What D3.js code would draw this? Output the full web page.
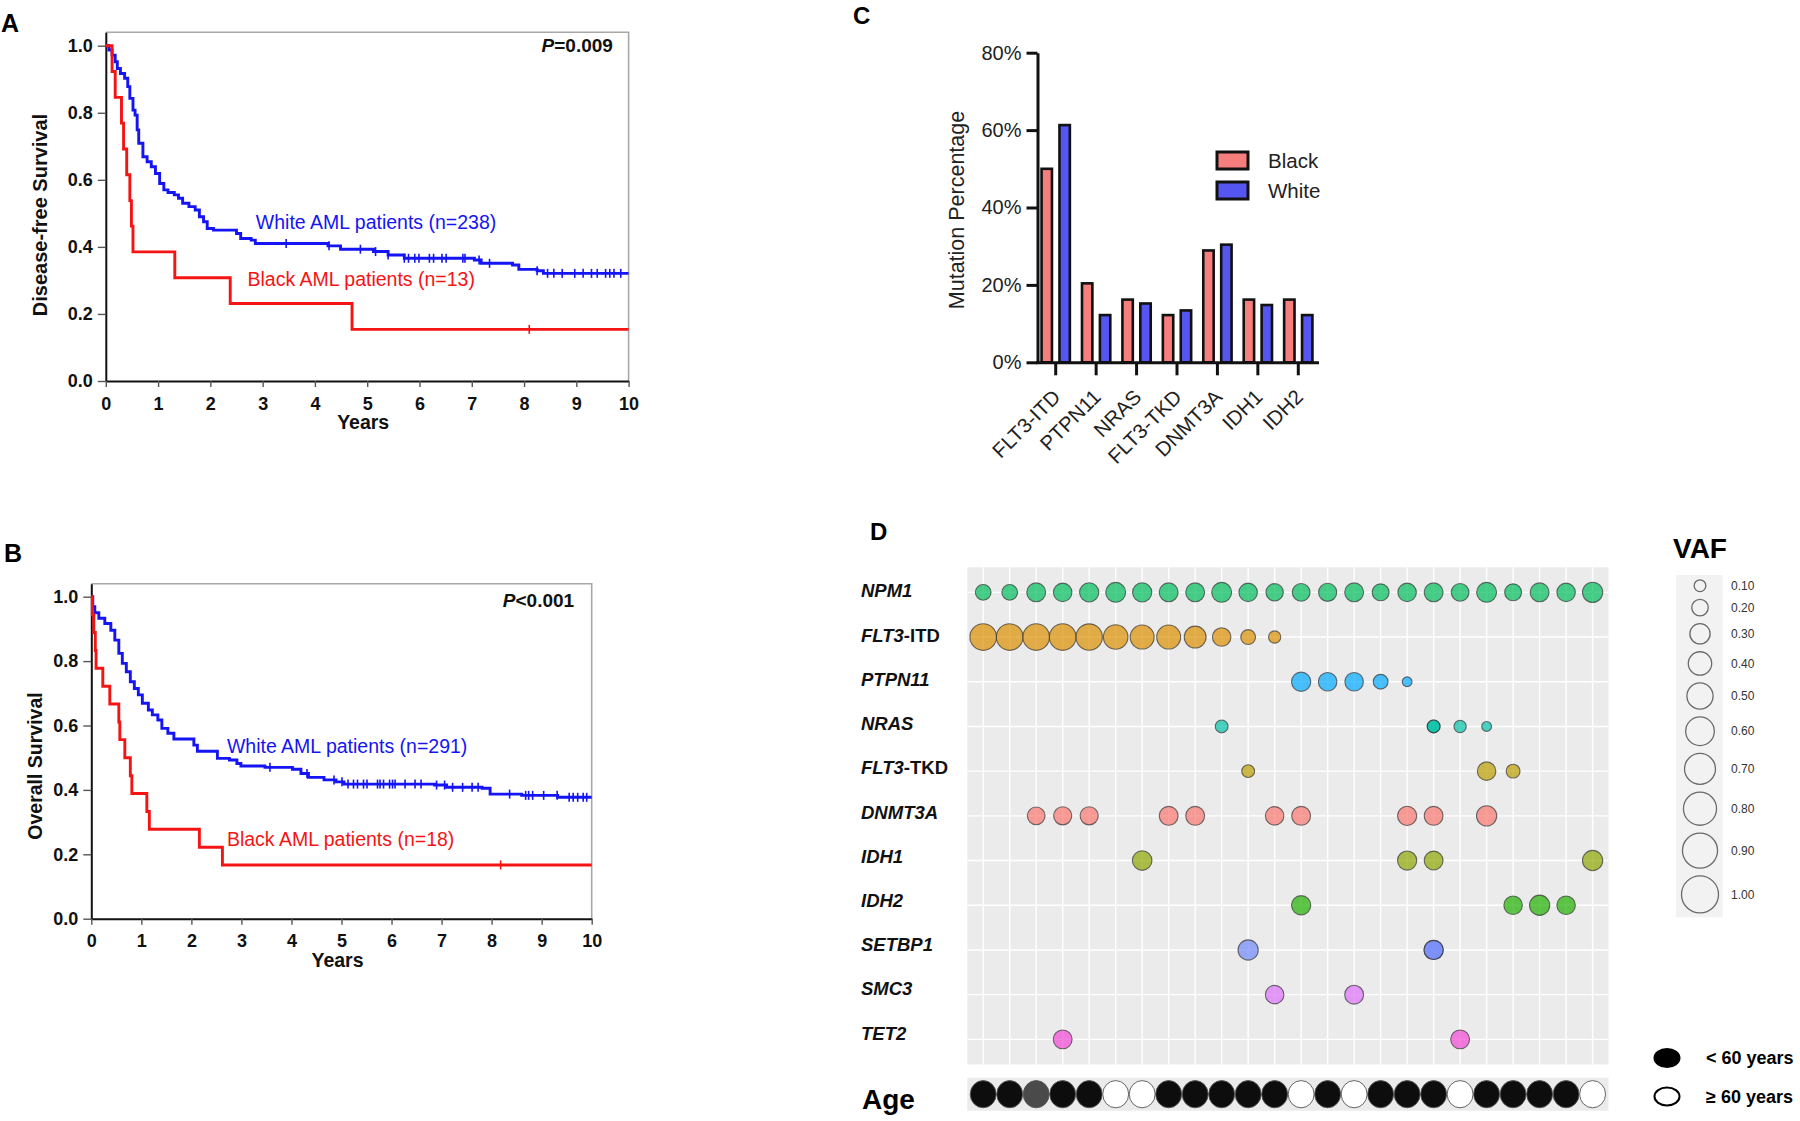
<!DOCTYPE html>
<html><head><meta charset="utf-8">
<script src="https://cdn.jsdelivr.net/npm/d3@7"></script>
<style>
body{margin:0;background:#fff}
svg{display:block;background:#fff}
text{font-family:"Liberation Sans",Arial,Helvetica,sans-serif}
</style>
</head><body>
<svg id="c" width="1800" height="1121"></svg>
<script>
// ---------------- DATA ----------------
const yearTicks = [0,1,2,3,4,5,6,7,8,9,10];
const survTicks = [0,0.2,0.4,0.6,0.8,1.0];

// Panel A: disease-free survival (step times, survival after step)
const dfsWhiteT = [0,0.06,0.12,0.18,0.22,0.28,0.36,0.42,0.46,0.52,0.56,0.60,0.63,0.71,0.79,0.87,0.95,1.03,1.11,1.19,1.31,1.39,1.47,1.59,1.71,1.79,1.87,1.94,2.06,2.5,2.58,2.78,2.86,4.25,4.49,5.12,5.4,5.71,7.05,7.18,7.78,7.9,8.25,8.37];
const dfsWhiteS = [1,0.987,0.972,0.952,0.932,0.917,0.903,0.878,0.843,0.808,0.793,0.749,0.709,0.669,0.654,0.639,0.619,0.589,0.570,0.562,0.555,0.545,0.530,0.520,0.510,0.490,0.475,0.455,0.450,0.440,0.425,0.420,0.410,0.403,0.393,0.386,0.376,0.366,0.361,0.351,0.346,0.333,0.329,0.321];
const dfsWhiteCensor = [3.45,4.27,4.87,5.16,5.4,5.71,5.79,5.91,5.99,6.19,6.27,6.43,6.51,6.83,6.87,7.14,7.34,8.25,8.45,8.57,8.73,8.97,9.13,9.29,9.4,9.56,9.64,9.72,9.85];
const dfsBlackT = [0,0.12,0.18,0.30,0.34,0.40,0.46,0.49,0.52,1.32,2.38,4.71];
const dfsBlackS = [1,0.923,0.846,0.769,0.692,0.615,0.538,0.462,0.385,0.308,0.231,0.154];
const dfsBlackCensor = [8.1];

// Panel B: overall survival
const osWhiteT = [0,0.03,0.07,0.15,0.27,0.39,0.47,0.55,0.62,0.70,0.78,0.86,0.94,1.02,1.14,1.22,1.33,1.41,1.53,1.65,2.05,2.12,2.52,2.76,2.91,2.99,3.47,4.02,4.19,4.34,4.65,4.89,5.05,6.86,7.1,7.81,7.97,8.6,9.32];
const osWhiteS = [1,0.969,0.950,0.933,0.917,0.896,0.865,0.824,0.793,0.767,0.736,0.715,0.695,0.669,0.648,0.633,0.617,0.591,0.576,0.558,0.539,0.520,0.498,0.493,0.482,0.474,0.470,0.464,0.451,0.439,0.431,0.425,0.418,0.415,0.408,0.405,0.387,0.383,0.377];
const osWhiteCensor = [3.57,4.31,4.85,5.01,5.13,5.24,5.32,5.44,5.51,5.72,5.77,5.84,5.96,6.02,6.07,6.27,6.47,6.59,6.9,7.06,7.22,7.42,7.61,7.73,8.36,8.68,8.74,8.82,9.04,9.31,9.55,9.63,9.72,9.83,9.9];
const osBlackT = [0,0.02,0.05,0.08,0.095,0.23,0.37,0.55,0.57,0.67,0.78,0.81,1.11,1.16,2.16,2.62];
const osBlackS = [1,0.944,0.889,0.833,0.778,0.722,0.667,0.611,0.556,0.5,0.444,0.389,0.333,0.278,0.222,0.167];
const osBlackCensor = [8.18];

// Panel C: mutation percentages
const mutCategories = ["FLT3-ITD","PTPN11","NRAS","FLT3-TKD","DNMT3A","IDH1","IDH2"];
const mutGroups = ["Black","White"];
const mutBlack = [50,20.4,16.2,12.2,28.9,16.2,16.2];
const mutWhite = [61.3,12.2,15.2,13.4,30.4,14.8,12.2];
const mutTicks = [0,20,40,60,80];

// Panel D: VAF bubble matrix ([patient, VAF])
const genes = ["NPM1","FLT3-ITD","PTPN11","NRAS","FLT3-TKD","DNMT3A","IDH1","IDH2","SETBP1","SMC3","TET2"];
const patients = [1,2,3,4,5,6,7,8,9,10,11,12,13,14,15,16,17,18,19,20,21,22,23,24];
const vafNPM1 = [[1,.18],[2,.18],[3,.26],[4,.25],[5,.27],[6,.29],[7,.27],[8,.26],[9,.26],[10,.29],[11,.25],[12,.22],[13,.23],[14,.24],[15,.26],[16,.21],[17,.25],[18,.26],[19,.23],[20,.29],[21,.21],[22,.26],[23,.25],[24,.30]];
const vafFLT3ITD = [[1,.52],[2,.52],[3,.52],[4,.52],[5,.51],[6,.44],[7,.42],[8,.42],[9,.35],[10,.25],[11,.16],[12,.11]];
const vafPTPN11 = [[13,.27],[14,.25],[15,.25],[16,.16],[17,.07]];
const vafNRAS = [[10,.12],[18,.12],[18,.12],[19,.11],[20,.07]];
const vafFLT3TKD = [[11,.12],[20,.25],[21,.14]];
const vafDNMT3A = [[3,.23],[4,.24],[5,.24],[8,.26],[9,.26],[12,.25],[13,.26],[17,.27],[18,.26],[20,.30]];
const vafIDH1 = [[7,.28],[17,.27],[18,.26],[24,.30]];
const vafIDH2 = [[13,.27],[21,.25],[22,.30],[23,.25]];
const vafSETBP1 = [[11,.30],[18,.27],[18,.27]];
const vafSMC3 = [[12,.25],[15,.26]];
const vafTET2 = [[4,.26],[19,.26]];
const geneColors = ["#00BD5C","#DB8E00","#00A9FF","#00C1A7","#BB9D00","#F8766D","#8DA600","#1FB000","#7187FA","#DD72FA","#F247D6"];
const ageGroup = ["<60","<60","NA","<60","<60","≥60","≥60","<60","<60","<60","<60","<60","≥60","<60","≥60","<60","<60","<60","≥60","<60","<60","<60","<60","≥60"];
const vafLegend = [0.1,0.2,0.3,0.4,0.5,0.6,0.7,0.8,0.9,1.0];
const vafLegendLabels = ["0.10","0.20","0.30","0.40","0.50","0.60","0.70","0.80","0.90","1.00"];

// ---------------- DRAW ----------------
const svg = d3.select("#c");

function stepAt(T,S,t){let v=S[0];for(let i=0;i<T.length;i++){if(T[i]<=t)v=S[i];}return v;}

function drawKM(cfg){
  const g = svg.append("g");
  const x = d3.scaleLinear().domain([0,10]).range([cfg.x0,cfg.x10]);
  const y = d3.scaleLinear().domain([0,1.04]).range([cfg.y0, cfg.y0 - 1.04*(cfg.y0-cfg.y1)]);
  g.append("path").attr("d",`M${x(0)},${y(1.04)}H${x(10)}V${y(0)}`)
    .attr("fill","none").attr("stroke","#a8a8a8").attr("stroke-width",1.6);
  const ya = g.append("g").attr("transform",`translate(${x(0)},0)`)
    .call(d3.axisLeft(y).tickValues(survTicks).tickSize(8).tickSizeOuter(0).tickPadding(5).tickFormat(d3.format(".1f")));
  const xa = g.append("g").attr("transform",`translate(0,${y(0)})`)
    .call(d3.axisBottom(x).tickValues(yearTicks).tickSize(6).tickSizeOuter(0).tickPadding(10));
  [ya,xa].forEach(a=>{
    a.select(".domain").attr("stroke","#111").attr("stroke-width",2);
    a.selectAll(".tick line").attr("stroke","#555").attr("stroke-width",1.4);
    a.selectAll(".tick text").attr("font-size",18).attr("font-weight","bold").attr("fill","#111")
      .attr("font-family","'Liberation Sans',Arial,sans-serif");
  });
  const line = d3.line().x(d=>x(d[0])).y(d=>y(d[1])).curve(d3.curveStepAfter);
  cfg.series.forEach(s=>{
    const pts = s.T.map((t,i)=>[t,s.S[i]]);
    pts.push([10,s.S[s.S.length-1]]);
    g.append("path").attr("d",line(pts)).attr("fill","none").attr("stroke",s.color).attr("stroke-width",2.9);
    g.selectAll(null).data(s.C).enter().append("line")
      .attr("x1",d=>x(d)).attr("x2",d=>x(d))
      .attr("y1",d=>y(stepAt(s.T,s.S,d))-4.5).attr("y2",d=>y(stepAt(s.T,s.S,d))+4.5)
      .attr("stroke",s.color).attr("stroke-width",1.6);
    g.append("text").attr("x",x(s.lx)).attr("y",y(s.ly)).attr("fill",s.color)
      .attr("font-size",19.5).text(s.label);
  });
  g.append("text").attr("x",x(cfg.px)).attr("y",y(cfg.py)).attr("text-anchor","end")
    .attr("font-size",19).attr("font-weight","bold").attr("fill","#111")
    .call(t=>{t.append("tspan").attr("font-style","italic").text("P");t.append("tspan").text(cfg.ptext);});
  g.append("text").attr("x",(x(0)+x(10))/2 - 4).attr("y",y(0)+48).attr("text-anchor","middle")
    .attr("font-size",19.5).attr("font-weight","bold").attr("fill","#111").text("Years");
  g.append("text").attr("transform",`translate(${cfg.ylx},${cfg.yly}) rotate(-90)`)
    .attr("text-anchor","middle").attr("dominant-baseline","central")
    .attr("font-size",cfg.ylfs).attr("font-weight","bold").attr("fill","#111").text(cfg.ylabel);
  g.append("text").attr("x",cfg.lettx).attr("y",cfg.letty).attr("font-size",25).attr("font-weight","bold").text(cfg.letter);
}

drawKM({x0:105.8,x10:628.6,y0:381,y1:45.7,letter:"A",lettx:1,letty:32,
  ylabel:"Disease-free Survival",ylfs:20,ylx:39.5,yly:215,ptext:"=0.009",px:9.7,py:0.98,
  series:[
    {T:dfsWhiteT,S:dfsWhiteS,C:dfsWhiteCensor,color:"#1414F5",label:"White AML patients (n=238)",lx:2.87,ly:0.453},
    {T:dfsBlackT,S:dfsBlackS,C:dfsBlackCensor,color:"#F51414",label:"Black AML patients (n=13)",lx:2.71,ly:0.283}
  ]});
drawKM({x0:91.3,x10:591.7,y0:918.7,y1:596.7,letter:"B",lettx:4,letty:562,
  ylabel:"Overall Survival",ylfs:19.5,ylx:35,yly:766,ptext:"<0.001",px:9.65,py:0.969,
  series:[
    {T:osWhiteT,S:osWhiteS,C:osWhiteCensor,color:"#1414F5",label:"White AML patients (n=291)",lx:2.71,ly:0.514},
    {T:osBlackT,S:osBlackS,C:osBlackCensor,color:"#F51414",label:"Black AML patients (n=18)",lx:2.71,ly:0.225}
  ]});

// ---------- Panel C ----------
(function(){
  const g = svg.append("g");
  const x0 = d3.scaleBand().domain(mutCategories).range([1035.5,1318.5]).paddingInner(0.3).paddingOuter(0.15);
  const x1 = d3.scaleBand().domain(mutGroups).range([0,x0.bandwidth()]).paddingInner(0.42);
  const y = d3.scaleLinear().domain([0,80]).range([362.3,52.7]);
  const col = {Black:"#F67F7E",White:"#5555F2"};
  const rows = mutCategories.map((c,i)=>({c,vals:[{k:"Black",v:mutBlack[i]},{k:"White",v:mutWhite[i]}]}));
  g.selectAll("g.grp").data(rows).enter().append("g").attr("transform",d=>`translate(${x0(d.c)},0)`)
    .selectAll("rect").data(d=>d.vals).enter().append("rect")
    .attr("x",d=>x1(d.k)).attr("width",x1.bandwidth()).attr("y",d=>y(d.v)).attr("height",d=>y(0)-y(d.v))
    .attr("fill",d=>col[d.k]).attr("stroke","#111").attr("stroke-width",2.6);
  const ya = g.append("g").attr("transform","translate(1037.5,0)")
    .call(d3.axisLeft(y).tickValues(mutTicks).tickSize(11).tickSizeOuter(0).tickPadding(5).tickFormat(d=>d+"%"));
  const xa = g.append("g").attr("transform",`translate(0,${y(0)})`)
    .call(d3.axisBottom(x0).tickSize(13).tickSizeOuter(0));
  [ya,xa].forEach(a=>{
    a.select(".domain").attr("stroke","#111").attr("stroke-width",3);
    a.selectAll(".tick line").attr("stroke","#111").attr("stroke-width",3);
    a.selectAll(".tick text").attr("font-size",20).attr("fill","#222").attr("font-family","'Liberation Sans',Arial,sans-serif");
  });
  xa.selectAll(".tick text").attr("y",0).attr("dy",0).attr("text-anchor","end")
    .attr("transform","translate(6,36) rotate(-45)").attr("font-size",20.5);
  g.append("text").attr("transform","translate(957,210) rotate(-90)").attr("text-anchor","middle")
    .attr("dominant-baseline","central").attr("font-size",21.5).attr("fill","#222").text("Mutation Percentage");
  const lg = g.selectAll("g.lg").data(mutGroups).enter().append("g")
    .attr("transform",(d,i)=>`translate(1217,${152+i*30})`);
  lg.append("rect").attr("width",31).attr("height",17).attr("fill",d=>col[d]).attr("stroke","#111").attr("stroke-width",3);
  lg.append("text").attr("x",51).attr("y",16).attr("font-size",20.5).attr("fill","#222").text(d=>d);
  g.append("text").attr("x",853).attr("y",24).attr("font-size",24).attr("font-weight","bold").text("C");
})();

// ---------- Panel D ----------
(function(){
  const g = svg.append("g");
  const left=967.3, right=1608.5, top=567.3, bottom=1064.4;
  const x = d3.scalePoint().domain(patients).range([left,right]).padding(0.6);
  const y = d3.scalePoint().domain(genes).range([top,bottom]).padding(0.56);
  const yLab = d3.scalePoint().domain(genes).range([590.7,1033]);
  const r = d3.scaleSqrt().domain([0,1]).range([0,18.5]);
  g.append("rect").attr("x",left).attr("y",top).attr("width",right-left).attr("height",bottom-top).attr("fill","#EBEBEB");
  g.selectAll("line.vx").data(patients).enter().append("line")
    .attr("x1",d=>x(d)).attr("x2",d=>x(d)).attr("y1",top).attr("y2",bottom).attr("stroke","#fff").attr("stroke-width",1.4);
  g.selectAll("line.hy").data(genes).enter().append("line")
    .attr("y1",d=>y(d)).attr("y2",d=>y(d)).attr("x1",left).attr("x2",right).attr("stroke","#fff").attr("stroke-width",1.4);
  const vafs = [vafNPM1,vafFLT3ITD,vafPTPN11,vafNRAS,vafFLT3TKD,vafDNMT3A,vafIDH1,vafIDH2,vafSETBP1,vafSMC3,vafTET2];
  const pts = [];
  vafs.forEach((arr,gi)=>arr.forEach(([p,v])=>pts.push({gene:genes[gi],p,v,color:geneColors[gi]})));
  g.selectAll("circle.b").data(pts).enter().append("circle")
    .attr("cx",d=>x(d.p)).attr("cy",d=>y(d.gene)).attr("r",d=>r(d.v))
    .attr("fill",d=>d.color).attr("fill-opacity",0.7).attr("stroke","#333").attr("stroke-opacity",0.7).attr("stroke-width",1.1);
  genes.forEach(name=>{
    const t = g.append("text").attr("x",861).attr("y",yLab(name)).attr("dy","0.36em")
      .attr("font-size",18.5).attr("font-weight","bold").attr("fill","#111");
    if(name.startsWith("FLT3-")){
      t.append("tspan").attr("font-style","italic").text("FLT3");
      t.append("tspan").text(name.slice(4));
    } else t.attr("font-style","italic").text(name);
  });
  // Age strip
  const ay = 1094.2;
  g.append("rect").attr("x",left).attr("y",1077.7).attr("width",right-left).attr("height",33).attr("fill","#EBEBEB");
  const ageFill = {"<60":"#0d0d0d","≥60":"#ffffff","NA":"#4a4a4a"};
  g.selectAll("ellipse.age").data(patients).enter().append("ellipse")
    .attr("cx",d=>x(d)).attr("cy",ay).attr("rx",x.step()/2-0.3).attr("ry",13.6)
    .attr("fill",(d,i)=>ageFill[ageGroup[i]]).attr("stroke","#555").attr("stroke-width",0.9);
  g.append("text").attr("x",862).attr("y",1109).attr("font-size",28).attr("font-weight","bold").text("Age");
  g.append("text").attr("x",870).attr("y",540).attr("font-size",24).attr("font-weight","bold").text("D");
  // VAF legend
  g.append("text").attr("x",1700).attr("y",558).attr("text-anchor","middle").attr("font-size",28).attr("font-weight","bold").text("VAF");
  g.append("rect").attr("x",1676).attr("y",575).attr("width",46.7).attr("height",342.3).attr("fill","#F2F2F2");
  const cy = []; let c = 585.7;
  vafLegend.forEach((v,i)=>{ if(i>0) c += r(vafLegend[i-1]) + r(v) + 7.8; cy.push(c); });
  const lgd = g.selectAll("g.vl").data(vafLegend).enter().append("g").attr("transform",(d,i)=>`translate(1700,${cy[i]})`);
  lgd.append("circle").attr("r",d=>r(d)).attr("fill","none").attr("stroke","#6a6a6a").attr("stroke-width",1.3);
  lgd.append("text").attr("x",31).attr("dy","0.35em").attr("font-size",12).attr("fill","#333").text((d,i)=>vafLegendLabels[i]);
  // Age legend
  const ageLeg = [{k:"< 60 years",f:"#000",y:1058},{k:"≥ 60 years",f:"#fff",y:1096.5}];
  const al = g.selectAll("g.al").data(ageLeg).enter().append("g").attr("transform",d=>`translate(1667,${d.y})`);
  al.append("ellipse").attr("rx",12.5).attr("ry",9).attr("fill",d=>d.f).attr("stroke","#000").attr("stroke-width",2);
  al.append("text").attr("x",39).attr("dy","0.36em").attr("font-size",18).attr("font-weight","bold").text(d=>d.k);
})();
</script>
</body></html>
